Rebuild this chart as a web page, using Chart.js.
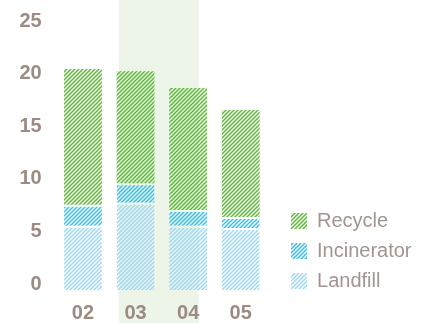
<!DOCTYPE html>
<html>
<head>
<meta charset="utf-8">
<script src="https://cdn.jsdelivr.net/npm/chart.js@4"></script>
<style>
  html, body { margin: 0; padding: 0; background: #fff; }
  #wrap { width: 424px; height: 323px; }
</style>
</head>
<body>
<div id="wrap"><canvas id="chart"></canvas></div>
<script>
var years = ["02", "03", "04", "05"];
var landfill = [6.1, 8.3, 6.1, 5.9];
var incinerator = [2.0, 1.85, 1.5, 1.05];
var recycle = [12.9, 10.65, 11.6, 10.15];
var yTicks = [0, 5, 10, 15, 20, 25];
var highlight = [0.68, 2.2]; // shaded span, in category units

var tickColor = "#9c8b82";
var legendColor = "#a2958d";

// little diagonal hatch tile
function hatch(color) {
  var c = document.createElement("canvas");
  c.width = 4;
  c.height = 4;
  var g = c.getContext("2d");
  g.strokeStyle = color;
  g.lineWidth = 1.5;
  g.beginPath();
  g.moveTo(0, 4); g.lineTo(4, 0);
  g.moveTo(-1, 1); g.lineTo(1, -1);
  g.moveTo(3, 5); g.lineTo(5, 3);
  g.stroke();
  return g.createPattern(c, "repeat");
}

// faint checker for the shaded span
function checker() {
  var c = document.createElement("canvas");
  c.width = 2;
  c.height = 2;
  var g = c.getContext("2d");
  g.fillStyle = "#eff6ea";
  g.fillRect(0, 0, 2, 2);
  g.fillStyle = "#eaf3e5";
  g.fillRect(0, 0, 1, 1);
  g.fillRect(1, 1, 1, 1);
  return g.createPattern(c, "repeat");
}

var bandPlugin = {
  id: "band",
  beforeDraw: function (chart) {
    var x = chart.scales.x;
    var ctx = chart.ctx;
    var l = x.getPixelForValue(highlight[0]);
    var r = x.getPixelForValue(highlight[1]);
    ctx.save();
    ctx.fillStyle = checker();
    ctx.fillRect(l, 0, r - l, chart.height);
    ctx.restore();
  }
};

// push the legend a bit right of the plot, and down to the bars' foot
var legendNudge = {
  id: "legendNudge",
  beforeLayout: function (chart) {
    var lg = chart.legend;
    if (lg && !lg._patched) {
      var fit = lg.fit;
      lg.fit = function () {
        fit.call(this);
        this.width += 14;
      };
      lg._patched = true;
    }
  },
  afterLayout: function (chart) {
    var lg = chart.legend;
    lg.left += 14;
    lg.right += 14;
    lg.bottom = chart.chartArea.bottom + 11;
  }
};

var gap = "rgba(255,255,255,0)";

var ctx = document.getElementById("chart");
var myChart = new Chart(ctx, {
  type: "bar",
  data: {
    labels: years,
    datasets: [
      {
        label: "Landfill",
        data: landfill,
        backgroundColor: hatch("#9fd8f5"),
        borderColor: gap,
        borderWidth: { top: 2, left: 0, right: 0, bottom: 0 },
        borderSkipped: false
      },
      {
        label: "Incinerator",
        data: incinerator,
        backgroundColor: hatch("#3dbdee"),
        borderColor: gap,
        borderWidth: { top: 2, left: 0, right: 0, bottom: 0 },
        borderSkipped: false
      },
      {
        label: "Recycle",
        data: recycle,
        backgroundColor: hatch("#5cb93a"),
        borderWidth: 0
      }
    ]
  },
  options: {
    responsive: true,
    maintainAspectRatio: false,
    animation: false,
    barPercentage: 0.72,
    categoryPercentage: 1,
    layout: { padding: { top: 23, left: 0, right: 2.5, bottom: 0 } },
    scales: {
      x: {
        stacked: true,
        grid: { display: false, drawTicks: false },
        border: { display: false },
        ticks: {
          color: tickColor,
          padding: 11,
          font: { family: "'Liberation Sans', Arial, sans-serif", size: 20, weight: "bold" }
        },
        afterFit: function (s) { s.height = 33; }
      },
      y: {
        stacked: true,
        min: 0,
        max: 25,
        grid: { display: false, drawTicks: false },
        border: { display: false },
        afterBuildTicks: function (s) {
          s.ticks = yTicks.map(function (v) { return { value: v }; });
        },
        ticks: {
          color: tickColor,
          padding: 15,
          labelOffset: -6,
          font: { family: "'Liberation Sans', Arial, sans-serif", size: 20, weight: "bold" }
        },
        afterFit: function (s) { s.width = 56.7; }
      }
    },
    plugins: {
      tooltip: { enabled: false },
      legend: {
        position: "right",
        align: "end",
        reverse: true,
        maxWidth: 220,
        labels: {
          boxWidth: 16,
          boxHeight: 16,
          padding: 10,
          color: legendColor,
          font: { family: "'Liberation Sans', Arial, sans-serif", size: 20 },
          generateLabels: function (chart) {
            var items = Chart.defaults.plugins.legend.labels.generateLabels(chart);
            items.forEach(function (it) { it.lineWidth = 0; });
            return items;
          }
        }
      }
    }
  },
  plugins: [bandPlugin, legendNudge]
});
</script>
</body>
</html>
